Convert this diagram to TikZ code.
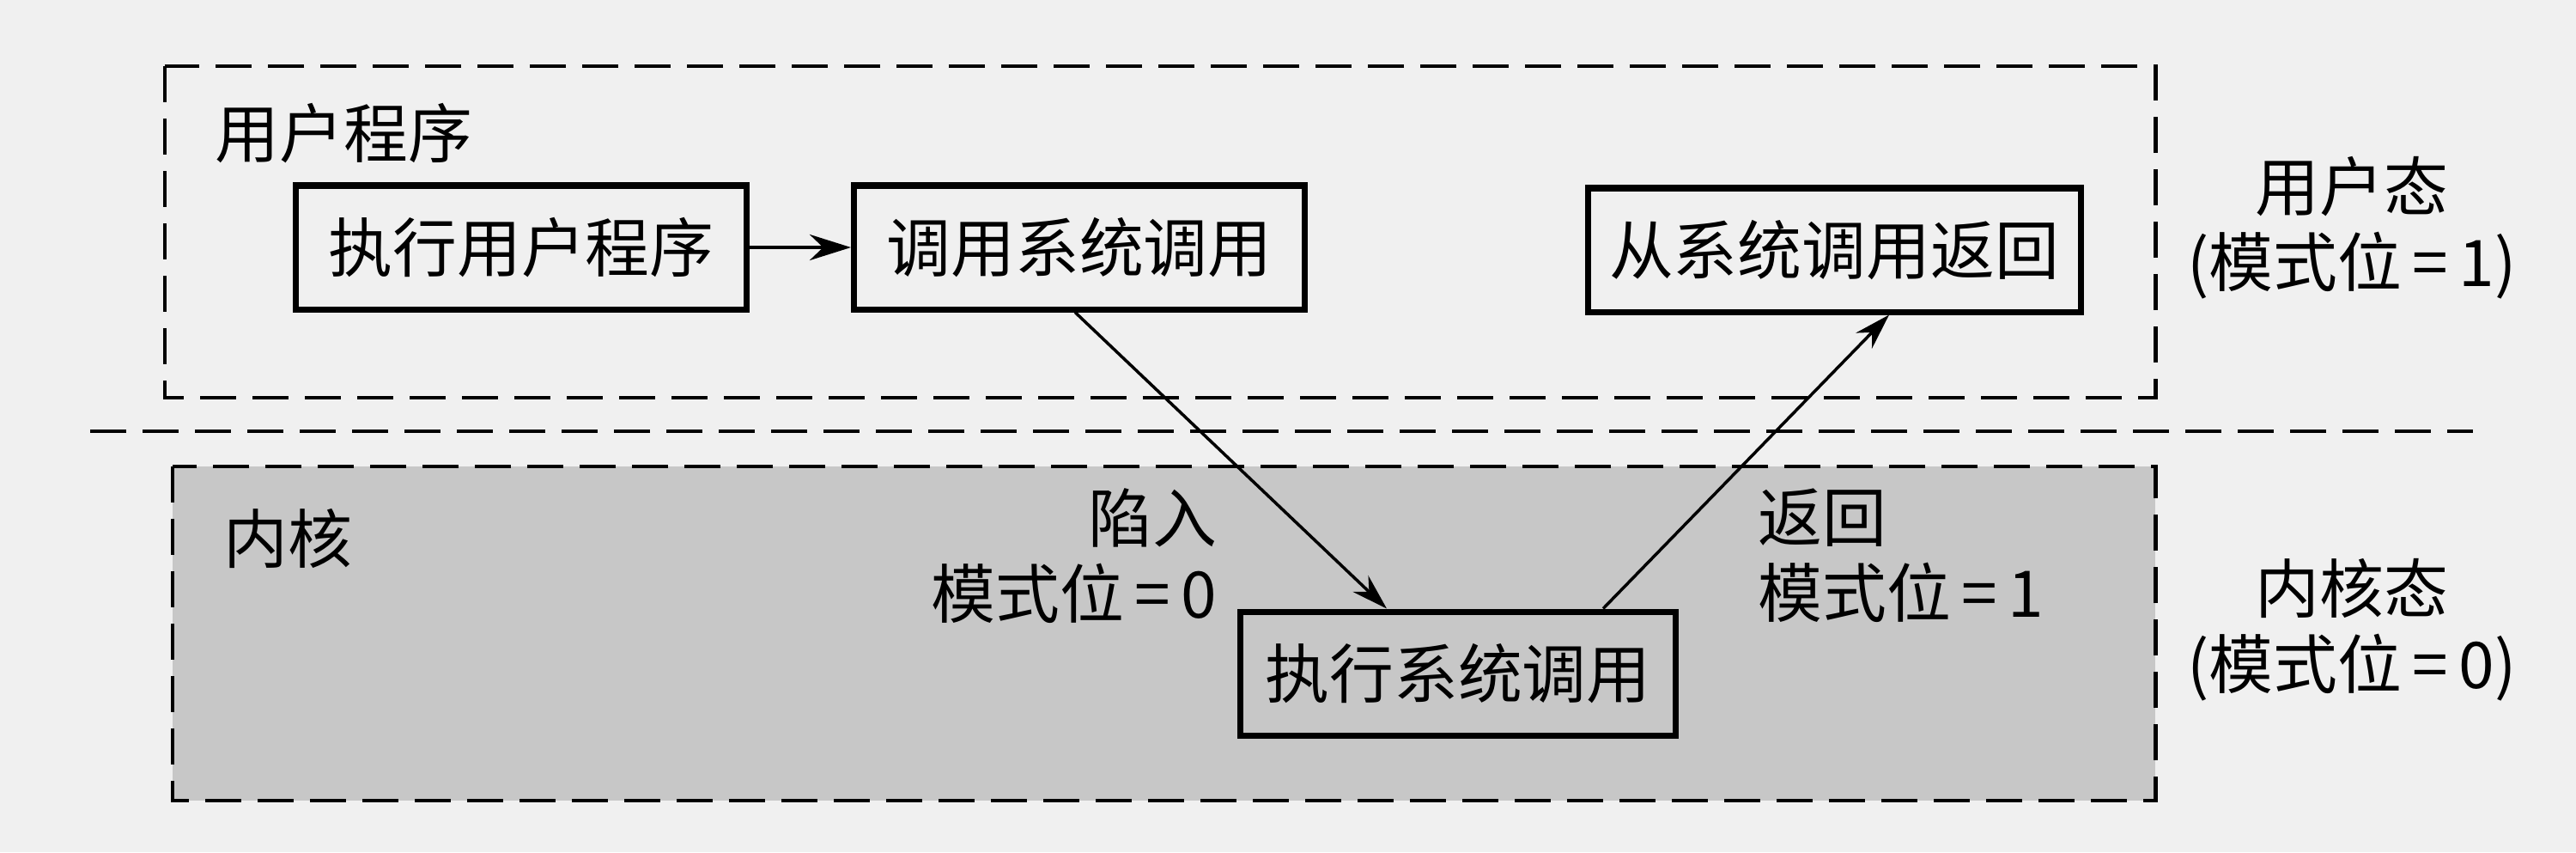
\documentclass[tikz,border=0pt]{standalone}
\usepackage{fontspec}
\setmainfont{Noto Sans CJK SC}
\usepackage{tikz}
\usetikzlibrary{positioning, arrows.meta}
\tikzset{
    region/.style={draw=black, line width=1.4pt, dash pattern=on 0.42cm off 0.19cm},
    kernelArea/.style={region, fill=black!22},
    callbox/.style={rectangle, draw=black, line width=2pt, align=center, minimum height=1.44cm, inner sep=0pt},
    arrow/.style={-{Stealth[length=0.42cm, width=0.26cm]}, line width=1pt},
    note/.style={inner sep=0pt},
    modeNote/.style={inner sep=0pt, align=center}
}

\begin{document}
\begin{tikzpicture}[font=\fontsize{21.3pt}{25pt}\selectfont]
        % Paper
        \fill[black!6] (0,0) rectangle (30,-9.92);
        \useasboundingbox (0,0) rectangle (30,-9.92);

        % Regions
        \draw[region] (1.92,-0.77) rectangle (25.10,-4.63);
        \draw[region] (1.05,-5.02) -- (28.80,-5.02);
        \draw[kernelArea] (2.01,-5.43) rectangle (25.10,-9.32);

        \node[note, anchor=west] (UserProg) at (2.50,-1.55) {用户程序};
        \node[note, anchor=west] (Kernel) at (2.60,-6.27) {内核};

        % User mode steps
        \node[callbox, minimum width=5.25cm] (UserRun) at (6.07,-2.88) {执行用户程序};
        \node[callbox, minimum width=5.25cm, right=1.18cm of UserRun] (SysCall) {调用系统调用};
        \node[callbox, minimum width=5.74cm] (SysRet) at (21.36,-2.91) {从系统调用返回};

        % Kernel mode step
        \node[callbox, minimum width=5.07cm] (SysExec) at (16.98,-7.84) {执行系统调用};

        % Transitions
        \draw[-{Stealth[length=0.48cm, width=0.3cm]}, line width=1.4pt] (UserRun) -- (SysCall);
        \draw[arrow] ([xshift=-0.05cm]SysCall.south) -- ([xshift=-0.83cm]SysExec.north);
        \draw[arrow] ([xshift=1.69cm]SysExec.north) -- ([xshift=0.64cm]SysRet.south);

        \node[note, align=right, anchor=east] (Trap) at (14.18,-6.47) {陷入\\模式位\,=\,0};
        \node[note, align=left, anchor=west] (Return) at (20.47,-6.47) {返回\\模式位\,=\,1};

        % Modes
        \node[modeNote] (UserMode) at (27.39,-2.65) {用户态\\(模式位\,=\,1)};
        \node[modeNote] (KernelMode) at (27.39,-7.33) {内核态\\(模式位\,=\,0)};
    \end{tikzpicture}
\end{document}
